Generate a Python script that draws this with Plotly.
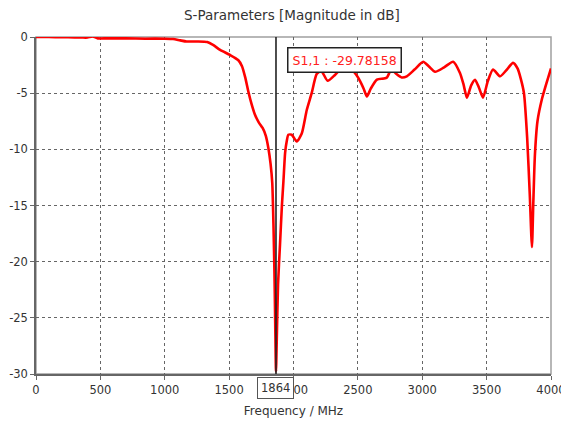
import plotly.graph_objects as go

freq_mhz = [0, 100, 200, 300, 360, 400, 440, 480, 550, 700, 850, 1000, 1065, 1120, 1170, 1250, 1330, 1375,
            1430, 1507, 1570, 1600, 1625, 1650, 1675, 1700, 1730, 1760, 1785, 1805, 1822, 1835, 1845,
            1852, 1858, 1864, 1870, 1880, 1895, 1910, 1922, 1935, 1947, 1960, 1986, 2025, 2064, 2103, 2141,
            2180, 2215, 2265, 2320, 2360, 2400, 2450, 2490, 2516, 2545, 2570, 2600, 2648, 2700, 2726, 2760,
            2800, 2840, 2880, 2940, 3007, 3050, 3100, 3170, 3240, 3293, 3320, 3347, 3380, 3410, 3440, 3472,
            3510, 3550, 3604, 3650, 3705, 3740, 3765, 3790, 3815, 3835, 3852, 3862, 3875, 3895, 3930, 3965, 4000]
s11_db = [0.0, 0.0, -0.02, -0.03, -0.05, -0.05, 0.05, -0.12, -0.12, -0.12, -0.15, -0.15, -0.18, -0.3, -0.4, -0.4, -0.45, -0.7,
          -1.15, -1.6, -2.05, -2.6, -3.6, -4.9, -6.0, -6.9, -7.6, -8.1, -8.8, -9.9, -11.3, -13.0, -17.0,
          -21.0, -25.5, -29.78, -27.0, -22.0, -18.5, -15.0, -12.8, -10.3, -9.3, -8.7, -8.7, -9.3, -8.6, -6.5, -5.0,
          -3.3, -3.0, -3.9, -3.4, -2.9, -2.6, -2.9, -3.4, -3.9, -4.6, -5.3, -4.6, -3.8, -3.7, -3.6, -2.9,
          -3.3, -3.6, -3.5, -2.9, -2.2, -2.6, -3.1, -2.7, -2.2, -3.2, -4.2, -5.4, -4.3, -3.8, -4.5, -5.4,
          -3.9, -2.9, -3.5, -3.0, -2.3, -2.8, -3.7, -5.0, -9.0, -14.0, -18.7, -15.0, -10.5, -7.5, -5.5, -4.1, -2.8]

marker_freq = 1864
marker_value = -29.78158

x_ticks = [0, 500, 1000, 1500, 2000, 2500, 3000, 3500, 4000]
y_ticks = [0, -5, -10, -15, -20, -25, -30]

fig = go.Figure()
fig.add_trace(go.Scatter(x=freq_mhz, y=s11_db, mode="lines",
                         line=dict(color="#ff0000", width=2.6, shape="spline", smoothing=0.6),
                         showlegend=False, hoverinfo="skip"))

font = "DejaVu Sans"
axis_common = dict(showgrid=True, gridcolor="#666666", griddash="dot", gridwidth=1,
                   zeroline=False, ticks="outside", ticklen=4, tickcolor="#666666",
                   showline=True, linecolor="#666666", linewidth=1.5, automargin=False,
                   tickfont=dict(family=font, size=11.5, color="#333333"))

fig.update_xaxes(range=[0, 4000], tickvals=x_ticks, ticktext=[str(v) for v in x_ticks],
                 title=dict(text="Frequency / MHz", font=dict(family=font, size=12, color="#333333"), standoff=11),
                 **axis_common)
fig.update_yaxes(range=[-30, 0], tickvals=y_ticks, ticktext=[str(v) for v in y_ticks], **axis_common)

# frame on top / right
fig.add_shape(type="rect", xref="paper", yref="paper", x0=0, x1=1, y0=0, y1=1,
              line=dict(color="#a0a0a0", width=1.5), layer="below")
# marker line
fig.add_shape(type="line", xref="x", yref="paper", x0=marker_freq, x1=marker_freq, y0=0, y1=1,
              line=dict(color="#222222", width=1.6), layer="above")

fig.add_annotation(x=0.487, y=0.97, xref="paper", yref="paper", xanchor="left", yanchor="top",
                   text=f"S1,1 : {marker_value}", showarrow=False,
                   font=dict(family=font, size=12.5, color="#ff2020"),
                   bgcolor="white", bordercolor="#222222", borderwidth=1.5, borderpad=4)
fig.add_annotation(x=marker_freq, y=0, xref="x", yref="paper", yanchor="top", yshift=-3,
                   text=str(marker_freq), showarrow=False,
                   font=dict(family=font, size=11.5, color="#333333"),
                   bgcolor="white", bordercolor="#555555", borderwidth=1, borderpad=3)

# page body adds ~8px offset; size figure so it fits the 569x425 window
fig.update_layout(width=561, height=417,
                  margin=dict(l=28, r=18, t=29, b=51),
                  paper_bgcolor="white", plot_bgcolor="white",
                  title=dict(text="S-Parameters [Magnitude in dB]", x=0.506, xanchor="center", y=0.983,
                             yanchor="middle", font=dict(family=font, size=13.5, color="#333333")))

fig.write_html("out.html")
